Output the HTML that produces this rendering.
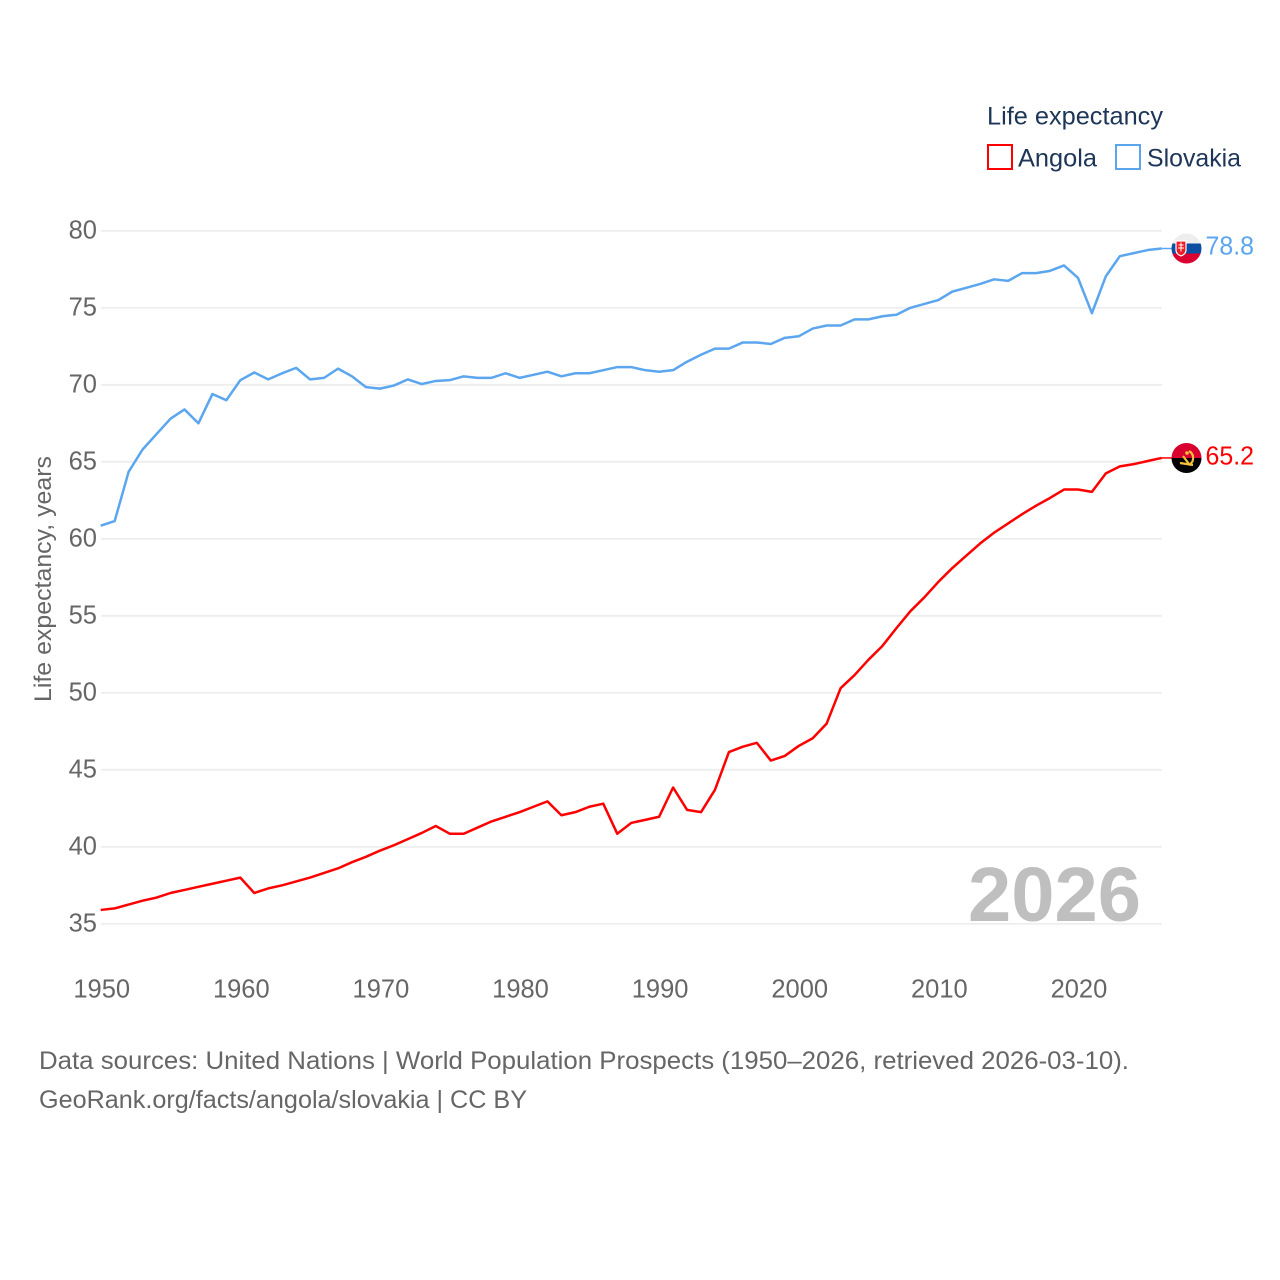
<!DOCTYPE html>
<html lang="en">
<head>
<meta charset="utf-8">
<title>Life expectancy: Angola and Slovakia</title>
<style>
html,body{margin:0;padding:0;background:#fff;width:1280px;height:1280px;overflow:hidden}
svg{display:block}
text{font-family:"Liberation Sans",sans-serif}
.tick{font-size:25.5px;fill:#666}
.leg{font-size:25px;fill:#1d3557}
.src{font-size:25px;fill:#666}
</style>
</head>
<body>
<svg id="chart" width="1280" height="1280" viewBox="0 0 1280 1280" xmlns="http://www.w3.org/2000/svg">
  <rect x="0" y="0" width="1280" height="1280" fill="#fff"/>
  <g id="grid"></g>
  <g id="yticks"></g>
  <g id="xticks"></g>
  <text transform="translate(51,579) rotate(-90)" text-anchor="middle" font-size="24.5" fill="#666" textLength="246" lengthAdjust="spacingAndGlyphs">Life expectancy, years</text>
  <text x="968" y="921" font-size="77" font-weight="700" fill="#bfbfbf" textLength="173" lengthAdjust="spacingAndGlyphs">2026</text>
  <g id="series"></g>

  <g>
    <clipPath id="clip-sk"><circle cx="1186.500" cy="248.500" r="15"/></clipPath>
    <g clip-path="url(#clip-sk)">
      <rect x="1171" y="233" width="31" height="10.500" fill="#eeeeee"/>
      <rect x="1171" y="243.500" width="31" height="10" fill="#0b4ea2"/>
      <rect x="1171" y="253.500" width="31" height="11" fill="#dc0030"/>
      <path d="M1176 241h10v9c0 3-2.500 5-5 6-2.500-1-5-3-5-6z" fill="#ee1c25" stroke="#fff" stroke-width="1.200"/>
      <path d="M1180.500 242.500h1v2h2v1h-2v2h2.500v1h-2.500v3h-1v-3h-2.500v-1h2.500v-2h-2v-1h2z" fill="#fff"/>
    </g>
  </g>
  <g>
    <clipPath id="clip-ao"><circle cx="1186.500" cy="458" r="15"/></clipPath>
    <g clip-path="url(#clip-ao)">
      <rect x="1171" y="443" width="31" height="15" fill="#d8002f"/>
      <rect x="1171" y="458" width="31" height="15" fill="#000"/>
      <path d="M1189 451a8 8 0 0 1 0 14" fill="none" stroke="#f5c33a" stroke-width="2.200"/>
      <path d="M1180 463l13 2M1183 456l6 8" fill="none" stroke="#f5c33a" stroke-width="2.200"/>
      <circle cx="1187" cy="453" r="1.800" fill="#f5c33a"/>
    </g>
  </g>
  <text id="label-slovakia" x="1205.500" y="254.500" font-size="26" fill="#5ba6ee" textLength="48.500" lengthAdjust="spacingAndGlyphs"></text>
  <text id="label-angola" x="1205.500" y="464.500" font-size="26" fill="#ff0000" textLength="48.500" lengthAdjust="spacingAndGlyphs"></text>

  <g>
    <text class="leg" x="987" y="124.500" textLength="176" lengthAdjust="spacingAndGlyphs">Life expectancy</text>
    <g>
      <rect x="988" y="145" width="24" height="24" fill="#fff" stroke="#ff0000" stroke-width="2"/>
      <text class="leg" x="1018" y="166.500" textLength="79" lengthAdjust="spacingAndGlyphs">Angola</text>
    </g>
    <g>
      <rect x="1116" y="145" width="24" height="24" fill="#fff" stroke="#5ba6ee" stroke-width="2"/>
      <text class="leg" x="1147" y="166.500" textLength="94" lengthAdjust="spacingAndGlyphs">Slovakia</text>
    </g>
  </g>

  <text class="src" x="39" y="1069" textLength="1090" lengthAdjust="spacingAndGlyphs">Data sources: United Nations | World Population Prospects (1950–2026, retrieved 2026-03-10).</text>
  <text class="src" x="39" y="1108" textLength="488" lengthAdjust="spacingAndGlyphs">GeoRank.org/facts/angola/slovakia | CC BY</text>
</svg>
<script>
const firstYear = 1950;
const yTickValues = [35, 40, 45, 50, 55, 60, 65, 70, 75, 80];
const xTickValues = [1950, 1960, 1970, 1980, 1990, 2000, 2010, 2020];
const slovakiaValues = [
  60.85, 61.15, 64.35, 65.8, 66.8, 67.8, 68.4, 67.5, 69.4, 69.0,
  70.3, 70.8, 70.35, 70.75, 71.1, 70.35, 70.45, 71.05, 70.55, 69.85,
  69.75, 69.95, 70.35, 70.05, 70.25, 70.3, 70.55, 70.45, 70.45, 70.75,
  70.45, 70.65, 70.85, 70.55, 70.75, 70.75, 70.95, 71.15, 71.15, 70.95,
  70.85, 70.95, 71.5, 71.95, 72.35, 72.35, 72.75, 72.75, 72.65, 73.05,
  73.15, 73.65, 73.85, 73.85, 74.25, 74.25, 74.45, 74.55, 75.0, 75.25,
  75.5, 76.05, 76.3, 76.55, 76.85, 76.75, 77.25, 77.25, 77.4, 77.75,
  76.95, 74.65, 77.05, 78.35, 78.55, 78.75, 78.85
];
const angolaValues = [
  35.9, 36.0, 36.25, 36.5, 36.7, 37.0, 37.2, 37.4, 37.6, 37.8,
  38.0, 37.0, 37.3, 37.5, 37.75, 38.0, 38.3, 38.6, 39.0, 39.35,
  39.75, 40.1, 40.5, 40.9, 41.35, 40.85, 40.85, 41.25, 41.65, 41.95,
  42.25, 42.6, 42.95, 42.05, 42.25, 42.6, 42.8, 40.85, 41.55, 41.75,
  41.95, 43.85, 42.4, 42.25, 43.7, 46.15, 46.5, 46.75, 45.6, 45.9,
  46.55, 47.05, 48.0, 50.3, 51.15, 52.15, 53.05, 54.2, 55.3, 56.2,
  57.2, 58.1, 58.9, 59.7, 60.4, 61.0, 61.6, 62.15, 62.65, 63.2,
  63.2, 63.05, 64.25, 64.7, 64.85, 65.05, 65.25
];
const slovakiaLabel = "78.8";
const angolaLabel = "65.2";

const NS = "http://www.w3.org/2000/svg";
const xScale = function (year) { return 100.7 + (year - 1950) * (1161.7 - 100.7) / 76; };
const yScale = function (v) { return 230.8 + (80 - v) * (923.8 - 230.8) / 45; };
const gridGroup = document.getElementById("grid");
const yGroup = document.getElementById("yticks");
const xGroup = document.getElementById("xticks");
const seriesGroup = document.getElementById("series");

yTickValues.forEach(function (v) {
  const line = document.createElementNS(NS, "line");
  
  
  line.setAttribute("x1", 101);
  line.setAttribute("x2", 1162);
  line.setAttribute("y1", yScale(v));
  line.setAttribute("y2", yScale(v));
  line.setAttribute("stroke", "#eeeeee");
  line.setAttribute("stroke-width", "1.8");
  gridGroup.appendChild(line);
  const t = document.createElementNS(NS, "text");
  
  
  t.setAttribute("class", "tick");
  t.setAttribute("x", 97);
  t.setAttribute("y", yScale(v) + 7.5);
  t.setAttribute("text-anchor", "end");
  t.textContent = String(v);
  yGroup.appendChild(t);
});

xTickValues.forEach(function (year) {
  const t = document.createElementNS(NS, "text");
  
  
  t.setAttribute("class", "tick");
  t.setAttribute("x", xScale(year) + 1);
  t.setAttribute("y", 997.5);
  t.setAttribute("text-anchor", "middle");
  t.textContent = String(year);
  xGroup.appendChild(t);
});

function pointsFor(values) {
  return values.map(function (v, i) {
    return xScale(firstYear + i).toFixed(2) + "," + yScale(v).toFixed(2);
  }).join(" ");
}

const slovakiaLine = document.createElementNS(NS, "polyline");


slovakiaLine.setAttribute("points", pointsFor(slovakiaValues));
slovakiaLine.setAttribute("fill", "none");
slovakiaLine.setAttribute("stroke", "#5ba6ee");
slovakiaLine.setAttribute("stroke-width", "2.5");
slovakiaLine.setAttribute("stroke-linejoin", "round");
seriesGroup.appendChild(slovakiaLine);

const angolaLine = document.createElementNS(NS, "polyline");


angolaLine.setAttribute("points", pointsFor(angolaValues));
angolaLine.setAttribute("fill", "none");
angolaLine.setAttribute("stroke", "#ff0000");
angolaLine.setAttribute("stroke-width", "2.5");
angolaLine.setAttribute("stroke-linejoin", "round");
seriesGroup.appendChild(angolaLine);

const slovakiaLeader = document.createElementNS(NS, "line");


slovakiaLeader.setAttribute("x1", xScale(2026));
slovakiaLeader.setAttribute("x2", 1172);
slovakiaLeader.setAttribute("y1", yScale(slovakiaValues[slovakiaValues.length - 1]));
slovakiaLeader.setAttribute("y2", yScale(slovakiaValues[slovakiaValues.length - 1]));
slovakiaLeader.setAttribute("stroke", "#5ba6ee");
slovakiaLeader.setAttribute("stroke-width", "1.5");
seriesGroup.appendChild(slovakiaLeader);

const angolaLeader = document.createElementNS(NS, "line");


angolaLeader.setAttribute("x1", xScale(2026));
angolaLeader.setAttribute("x2", 1172);
angolaLeader.setAttribute("y1", yScale(angolaValues[angolaValues.length - 1]));
angolaLeader.setAttribute("y2", yScale(angolaValues[angolaValues.length - 1]));
angolaLeader.setAttribute("stroke", "#ff0000");
angolaLeader.setAttribute("stroke-width", "1.5");
seriesGroup.appendChild(angolaLeader);

document.getElementById("label-slovakia").textContent = slovakiaLabel;
document.getElementById("label-angola").textContent = angolaLabel;
</script>
</body>
</html>
